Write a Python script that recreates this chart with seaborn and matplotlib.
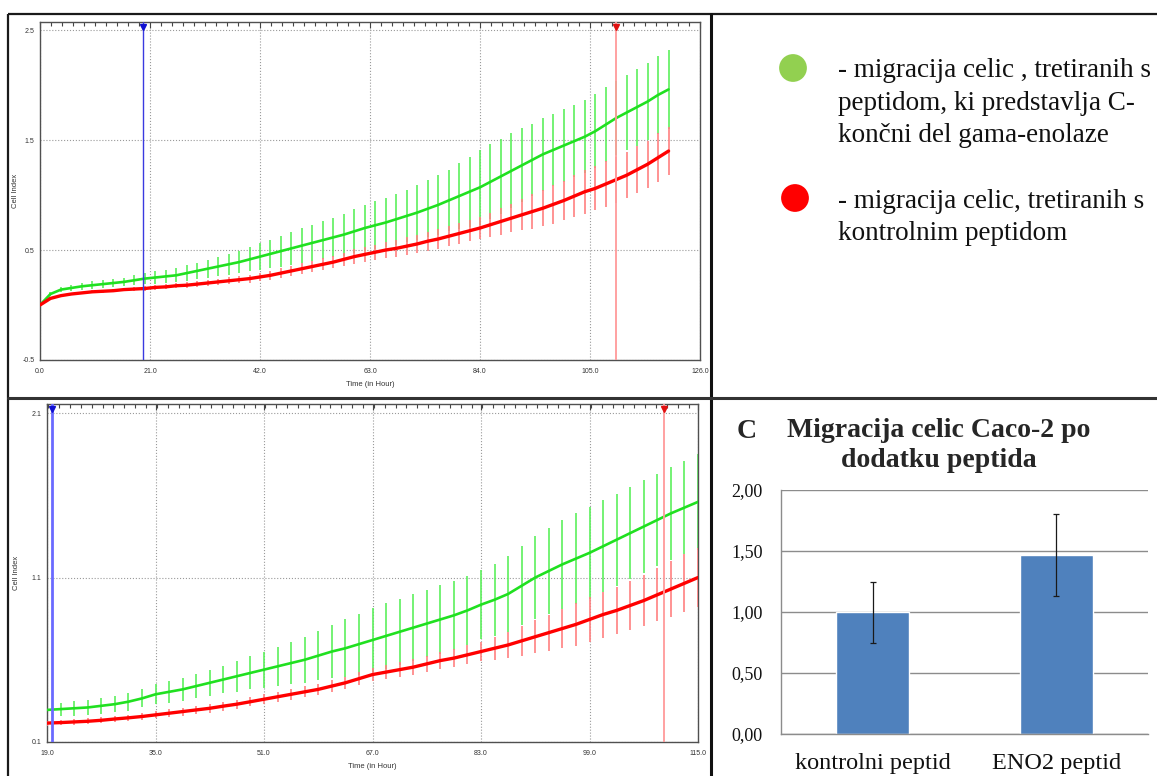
import numpy as np
import pandas as pd
import matplotlib
matplotlib.use("Agg")
import matplotlib.pyplot as plt
import matplotlib.ticker as mticker
import seaborn as sns

# --- panel A: RTCA cell index, 0-120 h ---
time_a = np.arange(0, 121, 2)
eno2_a = [0.00, 0.10, 0.14, 0.155, 0.17, 0.18, 0.19, 0.20, 0.21, 0.225,
          0.24, 0.25, 0.26, 0.27, 0.29, 0.31, 0.33, 0.35, 0.37, 0.39,
          0.415, 0.44, 0.465, 0.49, 0.515, 0.54, 0.565, 0.59, 0.615, 0.64,
          0.67, 0.70, 0.725, 0.75, 0.78, 0.81, 0.84, 0.875, 0.91, 0.95,
          0.99, 1.03, 1.07, 1.12, 1.17, 1.22, 1.27, 1.32, 1.37, 1.41,
          1.45, 1.49, 1.53, 1.58, 1.64, 1.70, 1.75, 1.80, 1.85, 1.91,
          1.96]
eno2_sd_a = [0.01, 0.02, 0.025, 0.03, 0.03, 0.035, 0.035, 0.04, 0.04, 0.045,
             0.05, 0.055, 0.06, 0.065, 0.07, 0.075, 0.08, 0.09, 0.095, 0.10,
             0.11, 0.12, 0.13, 0.14, 0.15, 0.16, 0.165, 0.17, 0.18, 0.19,
             0.20, 0.21, 0.22, 0.225, 0.23, 0.24, 0.25, 0.26, 0.27, 0.28,
             0.30, 0.32, 0.34, 0.34, 0.34, 0.34, 0.335, 0.33, 0.33, 0.33,
             0.33, 0.33, 0.33, 0.335, 0.34, 0.34, 0.345, 0.35, 0.35, 0.355,
             0.36]
ctrl_a = [0.00, 0.06, 0.085, 0.10, 0.11, 0.12, 0.125, 0.13, 0.14, 0.145,
          0.15, 0.16, 0.165, 0.175, 0.18, 0.19, 0.20, 0.21, 0.22, 0.23,
          0.24, 0.255, 0.27, 0.29, 0.31, 0.33, 0.35, 0.37, 0.39, 0.415,
          0.44, 0.46, 0.48, 0.50, 0.515, 0.535, 0.555, 0.58, 0.60, 0.625,
          0.65, 0.675, 0.70, 0.73, 0.76, 0.79, 0.82, 0.85, 0.88, 0.915,
          0.95, 0.99, 1.03, 1.06, 1.10, 1.14, 1.18, 1.23, 1.28, 1.34,
          1.40]
ctrl_sd_a = [0.005, 0.01, 0.01, 0.012, 0.012, 0.014, 0.015, 0.016, 0.017, 0.018,
             0.02, 0.02, 0.022, 0.024, 0.025, 0.027, 0.028, 0.03, 0.032, 0.034,
             0.036, 0.04, 0.042, 0.045, 0.048, 0.05, 0.052, 0.055, 0.058, 0.06,
             0.065, 0.068, 0.07, 0.073, 0.076, 0.08, 0.082, 0.085, 0.088, 0.09,
             0.094, 0.097, 0.10, 0.11, 0.12, 0.13, 0.14, 0.155, 0.165, 0.175,
             0.18, 0.19, 0.20, 0.20, 0.205, 0.21, 0.21, 0.215, 0.215, 0.22,
             0.22]

# --- panel B: normalised from 19 h ---
time_b = np.arange(19, 116, 2)
eno2_b = [0.295, 0.30, 0.305, 0.31, 0.32, 0.33, 0.345, 0.365, 0.39, 0.405,
          0.42, 0.44, 0.46, 0.48, 0.50, 0.52, 0.54, 0.56, 0.58, 0.60,
          0.625, 0.65, 0.67, 0.695, 0.72, 0.745, 0.77, 0.795, 0.82, 0.845,
          0.87, 0.90, 0.935, 0.965, 1.00, 1.05, 1.10, 1.14, 1.18, 1.215,
          1.25, 1.29, 1.33, 1.37, 1.41, 1.45, 1.49, 1.525, 1.56]
eno2_sd_b = [0.04, 0.04, 0.045, 0.045, 0.05, 0.05, 0.055, 0.055, 0.06, 0.065,
             0.07, 0.075, 0.08, 0.085, 0.095, 0.10, 0.11, 0.12, 0.13, 0.14,
             0.15, 0.16, 0.175, 0.185, 0.195, 0.20, 0.20, 0.205, 0.205, 0.21,
             0.21, 0.21, 0.21, 0.22, 0.23, 0.24, 0.25, 0.26, 0.27, 0.275,
             0.28, 0.28, 0.28, 0.28, 0.28, 0.28, 0.285, 0.285, 0.29]
ctrl_b = [0.215, 0.218, 0.222, 0.226, 0.232, 0.24, 0.247, 0.255, 0.265, 0.275,
          0.285, 0.295, 0.305, 0.318, 0.33, 0.345, 0.36, 0.375, 0.39, 0.405,
          0.42, 0.44, 0.46, 0.485, 0.51, 0.525, 0.54, 0.555, 0.575, 0.595,
          0.61, 0.63, 0.65, 0.67, 0.69, 0.715, 0.74, 0.765, 0.79, 0.815,
          0.845, 0.875, 0.90, 0.93, 0.96, 0.995, 1.03, 1.065, 1.10]
ctrl_sd_b = [0.015, 0.015, 0.016, 0.017, 0.018, 0.019, 0.02, 0.021, 0.022, 0.023,
             0.024, 0.025, 0.026, 0.027, 0.028, 0.029, 0.03, 0.031, 0.032, 0.033,
             0.034, 0.036, 0.038, 0.04, 0.042, 0.044, 0.046, 0.048, 0.05, 0.052,
             0.055, 0.058, 0.06, 0.07, 0.08, 0.09, 0.10, 0.11, 0.12, 0.13,
             0.135, 0.14, 0.145, 0.15, 0.155, 0.16, 0.17, 0.175, 0.18]

# markers (blue = start, red = end of analysed interval)
marker_start = 19.7
marker_end = 110.0

# --- panel C ---
bar_labels = ["kontrolni peptid", "ENO2 peptid"]
bar_values = [1.00, 1.47]
bar_errors = [0.25, 0.335]
bar_ticks = [0.0, 0.5, 1.0, 1.5, 2.0]
bar_tick_labels = ["0,00", "0,50", "1,00", "1,50", "2,00"]

legend_green = ["- migracija celic , tretiranih s",
                "peptidom, ki predstavlja C-",
                "končni del gama-enolaze"]
legend_red = ["- migracija celic, tretiranih s",
              "kontrolnim peptidom"]

sns.set_style("white")
SANS = ["Liberation Sans", "DejaVu Sans"]
SERIF = ["Liberation Serif", "DejaVu Serif"]
plt.rcParams["font.family"] = SANS

W, H = 1157, 776
fig = plt.figure(figsize=(W / 100, H / 100), dpi=100)


def px_axes(left, top, right, bottom):
    return fig.add_axes([left / W, 1 - bottom / H, (right - left) / W, (bottom - top) / H])


# background axes in pixel coordinates for frame, legend and labels
bg = fig.add_axes([0, 0, 1, 1])
bg.set_xlim(0, W)
bg.set_ylim(H, 0)
bg.axis("off")
frame = dict(color="#1a1a1a", lw=1.6, solid_capstyle="butt")
bg.plot([8, W], [14, 14], **frame)
bg.plot([8, 8], [14, H], **frame)
bg.plot([711, 711], [14, H], color="#111111", lw=2.2)
bg.plot([8, W], [397.5, 397.5], color="#333333", lw=2.2)


def draw_rtca(ax, t, green, green_sd, red, red_sd, xlim, xticks, xminor, ylim, yticks,
              blue_lw, blue_col):
    ax.errorbar(t, green, yerr=green_sd, fmt="none", ecolor="#5cf05c", elinewidth=1.2, zorder=2)
    ax.errorbar(t, red, yerr=red_sd, fmt="none", ecolor="#ff8080", elinewidth=1.2, zorder=3)
    sns.lineplot(x=t, y=green, color="#20e020", linewidth=1.9, ax=ax, zorder=4)
    sns.lineplot(x=t, y=red, color="#ff0000", linewidth=2.4, ax=ax, zorder=5)
    ax.axvline(marker_start, color=blue_col, lw=blue_lw, zorder=6)
    ax.axvline(marker_end, color="#ff9a9a", lw=1.3, zorder=6)
    ax.plot([marker_start], [0.985], marker="v", color="#1010d0", markersize=4.5,
            transform=ax.get_xaxis_transform(), clip_on=False, zorder=7)
    ax.plot([marker_end], [0.985], marker="v", color="#e01010", markersize=4.5,
            transform=ax.get_xaxis_transform(), clip_on=False, zorder=7)
    ax.set_xlim(*xlim)
    ax.set_ylim(*ylim)
    ax.set_xticks(xticks)
    ax.set_yticks(yticks)
    ax.xaxis.set_minor_locator(mticker.MultipleLocator(xminor))
    ax.yaxis.set_minor_locator(mticker.MultipleLocator(0.1))
    ax.xaxis.set_major_formatter(mticker.FormatStrFormatter("%.1f"))
    ax.yaxis.set_major_formatter(mticker.FormatStrFormatter("%.1f"))
    ax.tick_params(which="both", direction="in", top=True, right=False,
                   labelsize=5, labelcolor="#333333", color="#444444", width=0.8)
    ax.tick_params(which="major", length=4.5)
    ax.tick_params(which="minor", length=2.8)
    ax.tick_params(axis="x", pad=6)
    ax.tick_params(axis="y", pad=4)
    ax.grid(True, which="major", linestyle=":", color="#9a9a9a", linewidth=0.8)
    ax.set_axisbelow(True)
    for sp in ax.spines.values():
        sp.set_color("#505050")
        sp.set_linewidth(1.0)
    ax.set_xlabel("Time (in Hour)", fontsize=5.5, color="#333333")
    ax.set_ylabel("Cell Index", fontsize=5.5, color="#333333")


axA = px_axes(40, 22, 700, 360)
draw_rtca(axA, time_a, eno2_a, eno2_sd_a, ctrl_a, ctrl_sd_a,
          (0, 126), np.arange(0, 127, 21), 2.1, (-0.5, 2.573), [-0.5, 0.5, 1.5, 2.5],
          1.0, "#3a3ae0")
axA.xaxis.set_label_coords(0.5, -0.062)
axA.yaxis.set_label_coords(-0.032, 0.5)

axB = px_axes(47, 404, 698, 742)
draw_rtca(axB, time_b, eno2_b, eno2_sd_b, ctrl_b, ctrl_sd_b,
          (19, 115), np.arange(19, 116, 16), 1.6, (0.1, 2.155), [0.1, 1.1, 2.1],
          2.0, "#6a6aff")
axB.xaxis.set_label_coords(0.5, -0.062)
axB.yaxis.set_label_coords(-0.041, 0.5)

bg.text(61, 69, "A", fontsize=18, fontweight="bold", family=SANS, va="baseline")
bg.text(62, 438, "B", fontsize=20, fontweight="bold", family=SERIF, va="baseline")

# --- legend (top right) ---
bg.scatter([793], [68], s=400, color="#92d050", edgecolor="none")
bg.scatter([795], [198], s=400, color="#ff0000", edgecolor="none")
for txt, y in zip(legend_green, [77, 110, 142]):
    bg.text(838, y, txt, fontsize=19.5, family=SERIF, va="baseline", color="#111111")
for txt, y in zip(legend_red, [208, 240]):
    bg.text(838, y, txt, fontsize=19.5, family=SERIF, va="baseline", color="#111111")

# --- panel C bar chart ---
axC = px_axes(781, 490, 1148, 734)
sns.barplot(x=bar_labels, y=bar_values, color="#4f81bd", saturation=1, width=0.4,
            errorbar=None, ax=axC, zorder=2)
axC.errorbar(np.arange(len(bar_values)), bar_values, yerr=bar_errors, fmt="none",
             ecolor="#1a1a1a", elinewidth=0.9, capsize=2.5, capthick=0.9, zorder=3)
axC.set_xlim(-0.5, 1.5)
axC.set_ylim(0, 2)
axC.set_yticks(bar_ticks, bar_tick_labels, fontsize=13, family=SERIF)
axC.set_xticks(range(len(bar_labels)), bar_labels, fontsize=17.5, family=SERIF)
axC.yaxis.grid(True, color="#8c8c8c", linewidth=1)
axC.set_axisbelow(True)
axC.set_xlabel("")
axC.set_ylabel("")
for side in ["top", "right"]:
    axC.spines[side].set_visible(False)
for side in ["left", "bottom"]:
    axC.spines[side].set_color("#8c8c8c")
    axC.spines[side].set_linewidth(1)
axC.tick_params(axis="both", length=0, labelcolor="#111111")
axC.tick_params(axis="y", pad=13)
axC.tick_params(axis="x", pad=14)

bg.text(737, 437.7, "C", fontsize=20, fontweight="bold", family=SERIF, va="baseline")
bg.text(939, 436.7, "Migracija celic Caco-2 po", fontsize=20, fontweight="bold",
        family=SERIF, ha="center", va="baseline")
bg.text(939, 466.7, "dodatku peptida", fontsize=20, fontweight="bold",
        family=SERIF, ha="center", va="baseline")

fig.savefig("out.png", dpi=100)
